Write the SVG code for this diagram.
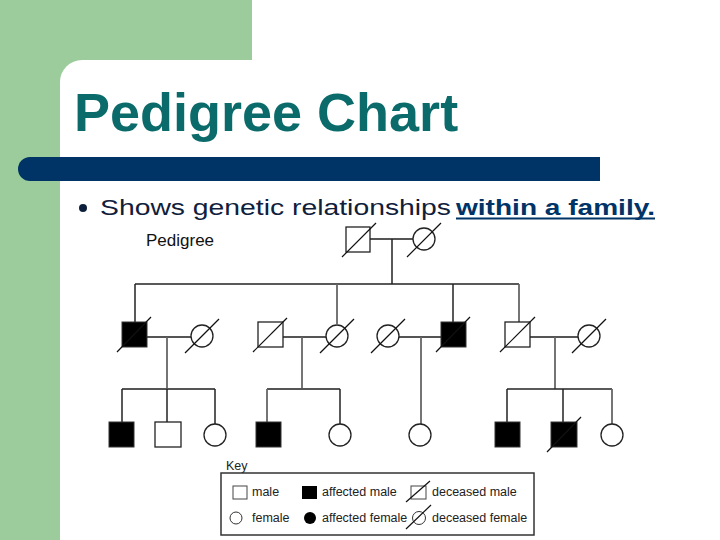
<svg xmlns="http://www.w3.org/2000/svg" width="720" height="540" viewBox="0 0 720 540">
<defs>
<style>
.sq{fill:#fff;stroke:#222;stroke-width:1.3}
.aff{fill:#000;stroke:#333;stroke-width:1}
.ci{fill:#fff;stroke:#222;stroke-width:1.3}
.dx{stroke:#111;stroke-width:1.2}
.mar{stroke:#555;stroke-width:2.2;fill:none}
.ln{stroke:#222;stroke-width:1.5;fill:none}
.lg{stroke:#666;stroke-width:1.8;fill:none}
.kt{font-family:"Liberation Sans",Arial,sans-serif;font-size:12.5px;fill:#222}
</style>
</defs>
<rect width="720" height="540" fill="#fff"/>
<rect x="0" y="0" width="252" height="540" fill="#9ccc9c"/>
<rect x="60" y="60" width="720" height="520" rx="22" fill="#fff"/>
<rect x="18" y="157" width="582" height="24" rx="12" fill="#003366"/>
<rect x="560" y="157" width="40" height="24" fill="#003366"/>
<text x="74" y="131" font-family="'Liberation Sans',Arial,sans-serif" font-size="54" font-weight="bold" fill="#0b6b6b">Pedigree Chart</text>
<circle cx="83" cy="208" r="4" fill="#0d1f3c"/>
<text x="100" y="215" font-family="'Liberation Sans',Arial,sans-serif" font-size="22" fill="#10203c" textLength="351" lengthAdjust="spacingAndGlyphs">Shows genetic relationships</text>
<text x="456" y="215" font-family="'Liberation Sans',Arial,sans-serif" font-size="22" font-weight="bold" fill="#003366" textLength="199" lengthAdjust="spacingAndGlyphs">within a family.</text>
<rect x="456" y="217.5" width="199" height="2" fill="#003366"/>
<text x="146" y="246" font-family="'Liberation Sans',Arial,sans-serif" font-size="17" fill="#111">Pedigree</text>

<g id="connectors">
<line class="mar" x1="370" y1="239" x2="413" y2="239"/>
<line class="ln" x1="392" y1="239" x2="392" y2="284"/>
<line class="ln" x1="135" y1="284" x2="519" y2="284"/>
<line class="ln" x1="135" y1="284" x2="135" y2="322"/>
<line class="lg" x1="337" y1="284" x2="337" y2="324"/>
<line class="ln" x1="453" y1="284" x2="453" y2="322"/>
<line class="lg" x1="519" y1="284" x2="519" y2="322"/>
<line class="mar" x1="147" y1="337" x2="191" y2="337"/>
<line class="lg" x1="167" y1="337" x2="167" y2="389"/>
<line class="mar" x1="283" y1="337" x2="326" y2="337"/>
<line class="lg" x1="302" y1="337" x2="302" y2="389"/>
<line class="mar" x1="399" y1="337" x2="441" y2="337"/>
<line class="lg" x1="421" y1="337" x2="421" y2="424"/>
<line class="mar" x1="530" y1="337" x2="578" y2="337"/>
<line class="lg" x1="555" y1="337" x2="555" y2="389"/>
<line class="mar" x1="122" y1="389" x2="215" y2="389"/>
<line class="ln" x1="122" y1="389" x2="122" y2="422"/>
<line class="ln" x1="167" y1="389" x2="167" y2="422"/>
<line class="ln" x1="215" y1="389" x2="215" y2="424"/>
<line class="mar" x1="267" y1="389" x2="340" y2="389"/>
<line class="lg" x1="267" y1="389" x2="267" y2="422"/>
<line class="ln" x1="340" y1="389" x2="340" y2="424"/>
<line class="ln" x1="507" y1="389" x2="612" y2="389"/>
<line class="ln" x1="507" y1="389" x2="507" y2="422"/>
<line class="ln" x1="563" y1="389" x2="563" y2="422"/>
<line class="lg" x1="612" y1="389" x2="612" y2="424"/>
</g>

<g id="gp-male"><rect class="sq" x="346" y="227" width="24" height="25"/><line class="dx" x1="342" y1="257" x2="376" y2="223"/></g>
<g id="gp-female"><circle class="ci" cx="424" cy="239" r="11"/><line class="dx" x1="407" y1="257" x2="441" y2="223"/></g>

<g id="c1-male"><rect class="aff" x="122" y="322" width="25" height="25"/><line class="dx" x1="117" y1="352" x2="151" y2="317"/></g>
<g id="c1-wife"><circle class="ci" cx="202" cy="336" r="11"/><line class="dx" x1="185" y1="353" x2="219" y2="319"/></g>
<g id="c2-husband"><rect class="sq" x="258" y="322" width="25" height="25"/><line class="dx" x1="253" y1="352" x2="287" y2="318"/></g>
<g id="c2-female"><circle class="ci" cx="337" cy="336" r="11"/><line class="dx" x1="320" y1="353" x2="354" y2="319"/></g>
<g id="c3-wife"><circle class="ci" cx="388" cy="336" r="11"/><line class="dx" x1="371" y1="353" x2="405" y2="319"/></g>
<g id="c3-male"><rect class="aff" x="441" y="322" width="25" height="25"/><line class="dx" x1="436" y1="352" x2="470" y2="317"/></g>
<g id="c4-male"><rect class="sq" x="505" y="322" width="25" height="25"/><line class="dx" x1="500" y1="352" x2="535" y2="317"/></g>
<g id="c4-wife"><circle class="ci" cx="589" cy="336" r="11"/><line class="dx" x1="572" y1="353" x2="606" y2="319"/></g>

<g id="g3-1"><rect class="aff" x="109" y="422" width="25" height="25"/></g>
<g id="g3-2"><rect class="sq" x="155" y="422" width="26" height="25"/></g>
<g id="g3-3"><circle class="ci" cx="215" cy="435" r="11"/></g>
<g id="g3-4"><rect class="aff" x="256" y="422" width="25" height="25"/></g>
<g id="g3-5"><circle class="ci" cx="340" cy="435" r="11"/></g>
<g id="g3-6"><circle class="ci" cx="420" cy="435" r="11"/></g>
<g id="g3-7"><rect class="aff" x="495" y="422" width="25" height="25"/></g>
<g id="g3-8"><rect class="aff" x="551" y="422" width="26" height="25"/><line class="dx" x1="547" y1="452" x2="581" y2="417"/></g>
<g id="g3-9"><circle class="ci" cx="612" cy="435" r="11"/></g>

<g id="key">
<text class="kt" x="226" y="470">Key</text>
<rect x="221" y="473" width="313" height="62" fill="#fff" stroke="#333" stroke-width="1.5"/>
<rect x="233" y="486" width="14" height="13" fill="#fff" stroke="#444" stroke-width="1"/>
<text class="kt" x="252" y="496">male</text>
<rect x="302" y="486" width="15" height="13" fill="#000"/>
<text class="kt" x="322" y="496">affected male</text>
<rect x="411" y="486" width="15" height="13" fill="#fff" stroke="#444" stroke-width="1"/>
<line class="dx" x1="406" y1="502" x2="430" y2="481"/>
<text class="kt" x="432" y="496">deceased male</text>
<circle cx="236" cy="518" r="6" fill="#fff" stroke="#333" stroke-width="1"/>
<text class="kt" x="252" y="522">female</text>
<circle cx="310" cy="518" r="6" fill="#000"/>
<text class="kt" x="322" y="522">affected female</text>
<circle cx="419" cy="518" r="6.5" fill="#fff" stroke="#333" stroke-width="1"/>
<line class="dx" x1="406" y1="529" x2="431" y2="505"/>
<text class="kt" x="432" y="522">deceased female</text>
</g>
</svg>
